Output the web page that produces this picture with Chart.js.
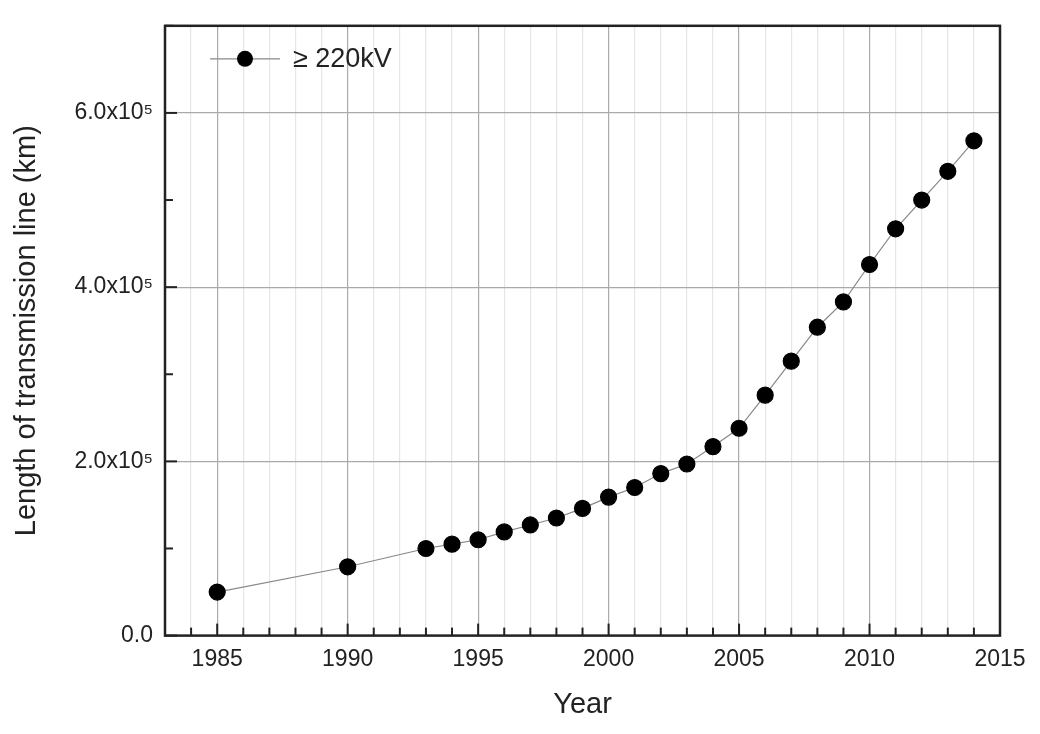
<!DOCTYPE html>
<html><head><meta charset="utf-8">
<script src="https://cdn.jsdelivr.net/npm/chart.js@4"></script>
<style>html,body{margin:0;padding:0;background:#fff}#w{width:1040px;height:734px}</style>
</head><body><div id="w"><canvas id="c"></canvas></div>
<script>
const years = [1985,1990,1993,1994,1995,1996,1997,1998,1999,2000,2001,2002,2003,2004,2005,2006,2007,2008,2009,2010,2011,2012,2013,2014];
const lengthKm = [50000,79000,100000,105000,110000,119000,127000,135000,146000,159000,170000,186000,197000,217000,238000,276000,315000,354000,383000,426000,467000,500000,533000,568000];
const seriesLabel = '≥ 220kV';
const yTickLabels = {0:'0.0',200000:'2.0x10⁵',400000:'4.0x10⁵',600000:'6.0x10⁵'};

const F = "'Liberation Sans', Arial, sans-serif";
const inTicks = {
  id:'inTicks',
  afterDraw(ch){
    const c=ch.ctx, a=ch.chartArea, xs=ch.scales.x, ys=ch.scales.y;
    c.save(); c.strokeStyle='#222'; c.lineWidth=2;
    for(let v=1984; v<=2015; v++){const px=xs.getPixelForValue(v);const L=v%5===0?12:8;
      c.beginPath();c.moveTo(px,a.bottom);c.lineTo(px,a.bottom-L);c.stroke();}
    for(let v=0; v<=700000; v+=100000){const py=ys.getPixelForValue(v);const L=v%200000===0?12:8;
      c.beginPath();c.moveTo(a.left,py);c.lineTo(a.left+L,py);c.stroke();}
    c.lineWidth=2.5; c.strokeRect(a.left,a.top,a.right-a.left,a.bottom-a.top);
    const lx=a.left+45, ly=a.top+33;
    c.strokeStyle='#888'; c.lineWidth=1.2; c.beginPath(); c.moveTo(lx,ly); c.lineTo(lx+70,ly); c.stroke();
    c.fillStyle='#000'; c.beginPath(); c.arc(lx+35,ly,8,0,Math.PI*2); c.fill();
    c.fillStyle='#222'; c.font='27px '+F; c.textBaseline='middle'; c.fillText(seriesLabel,lx+83,ly+1);
    c.restore();
  }
};
new Chart(document.getElementById('c'),{
  type:'line',
  data:{datasets:[{label:seriesLabel,data:years.map((y,i)=>({x:y,y:lengthKm[i]})),
    borderColor:'#888',borderWidth:1.2,pointRadius:8,pointBackgroundColor:'#000',pointBorderColor:'#000',pointHoverRadius:8,tension:0}]},
  options:{responsive:true,maintainAspectRatio:false,animation:false,
    layout:{padding:{top:6,right:40,left:6,bottom:8}},
    plugins:{legend:{display:false},tooltip:{enabled:false}},
    scales:{
      x:{type:'linear',min:1983,max:2015,
        ticks:{stepSize:1,autoSkip:false,maxRotation:0,color:'#222',font:{size:23,family:F},padding:10,
          callback:v=>v%5===0?String(v):''},
        grid:{drawTicks:false,color:ctx=>ctx.tick&&ctx.tick.value%5===0?'#aaa':'#e6e6e6',lineWidth:1.2},
        border:{display:false},
        title:{display:true,text:'Year',color:'#222',font:{size:29,family:F},padding:{top:4}}},
      y:{min:0,max:700000,
        ticks:{stepSize:100000,autoSkip:false,color:'#222',font:{size:23,family:F},padding:12,
          callback:v=>yTickLabels[v]!==undefined?yTickLabels[v]:''},
        afterFit(s){s.width=159;},
        grid:{drawTicks:false,color:ctx=>ctx.tick&&ctx.tick.value%200000===0&&ctx.tick.value>0?'#aaa':'rgba(0,0,0,0)',lineWidth:1.2},
        border:{display:false},
        title:{display:true,text:'Length of transmission line (km)',color:'#222',font:{size:29,family:F},padding:{bottom:2}}}
    }},
  plugins:[inTicks]
});
</script></body></html>
